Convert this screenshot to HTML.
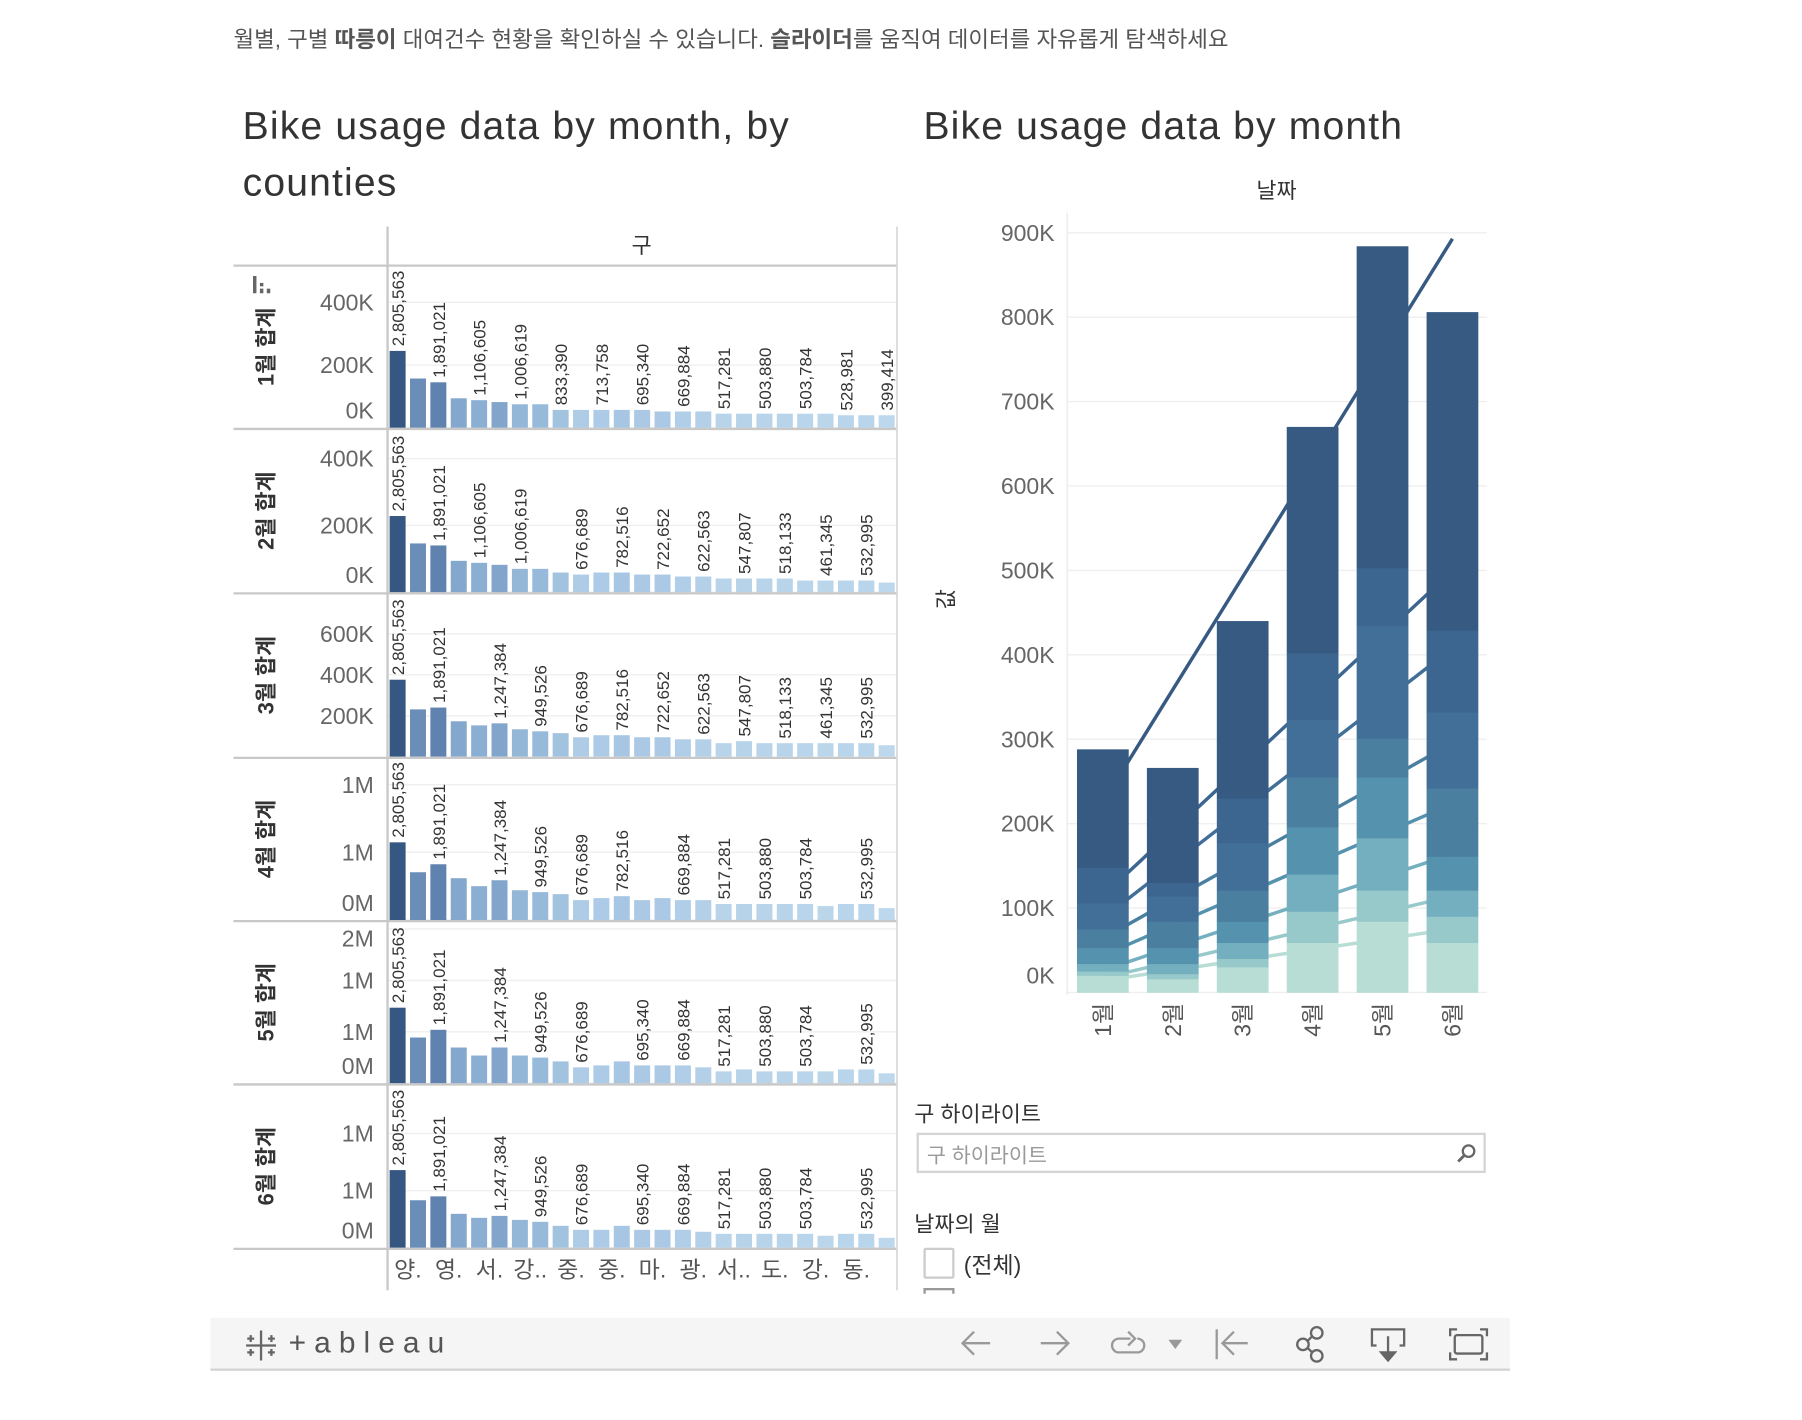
<!DOCTYPE html>
<html><head><meta charset="utf-8">
<style>
html,body{margin:0;padding:0;background:#fff;width:1802px;height:1420px;overflow:hidden;}
#stage{position:absolute;left:0;top:0;width:1567px;height:1235px;transform:scale(1.15);transform-origin:0 0;font-family:"Liberation Sans","Noto Sans CJK KR",sans-serif;}
.abs{position:absolute;white-space:nowrap;}
svg text{font-family:"Liberation Sans","Noto Sans CJK KR",sans-serif;}
</style></head><body>
<div id="stage">
<div class="abs" style="left:203px;top:18px;font-size:19.5px;color:#555;">월별, 구별 <b>따릉이</b> 대여건수 현황을 확인하실 수 있습니다. <b>슬라이더</b>를 움직여 데이터를 자유롭게 탐색하세요</div>
<div class="abs" style="left:211px;top:86px;font-size:34px;line-height:49px;color:#333;white-space:normal;width:520px;letter-spacing:1px;">Bike usage data by month, by counties</div>
<div class="abs" style="left:803px;top:86px;font-size:34px;line-height:49px;color:#333;letter-spacing:1px;">Bike usage data by month</div>

<svg id="charts" width="1567" height="1235" style="position:absolute;left:0;top:0;"></svg>

<div class="abs" style="left:795px;top:954px;font-size:19px;color:#333;">구 하이라이트</div>
<div class="abs" style="left:797px;top:985px;width:491px;height:31px;border:2px solid #d4d4d4;box-sizing:content-box;background:#fff;">
  <span style="position:absolute;left:7px;top:4px;font-size:18px;color:#999;">구 하이라이트</span>
  <svg style="position:absolute;right:6px;top:7px;" width="18" height="18"><circle cx="11" cy="7" r="5" fill="none" stroke="#666" stroke-width="2"/><line x1="7" y1="11" x2="2" y2="16" stroke="#666" stroke-width="2.5"/></svg>
</div>
<div class="abs" style="left:795px;top:1050px;font-size:19px;color:#333;">날짜의 월</div>
<div class="abs" style="left:803px;top:1085px;width:23px;height:23px;border:2px solid #ccc;border-radius:2px;"></div>
<div class="abs" style="left:838px;top:1084px;font-size:20px;color:#333;">(전체)</div>
<div class="abs" style="left:803px;top:1120px;width:23px;height:3px;border:2px solid #999;border-bottom:none;"></div>

<div class="abs" style="left:183px;top:1146px;width:1130px;height:44px;background:#f5f5f5;border-bottom:2px solid #d4d4d4;">
  <svg style="position:absolute;left:28px;top:8px;" width="32" height="32">
    <g stroke="#666" stroke-width="2"><line x1="16" y1="3" x2="16" y2="29"/><line x1="3" y1="16" x2="29" y2="16"/><line x1="7" y1="7" x2="7" y2="13"/><line x1="4" y1="10" x2="10" y2="10"/><line x1="25" y1="7" x2="25" y2="13"/><line x1="22" y1="10" x2="28" y2="10"/><line x1="7" y1="19" x2="7" y2="25"/><line x1="4" y1="22" x2="10" y2="22"/><line x1="25" y1="19" x2="25" y2="25"/><line x1="22" y1="22" x2="28" y2="22"/></g>
  </svg>
  <span style="position:absolute;left:68px;top:6px;font-size:26px;color:#555;letter-spacing:7px;">+ableau</span>
  <svg style="position:absolute;left:640px;top:6px;" width="480" height="34">
    <g stroke="#999" stroke-width="2" fill="none">
      <g><line x1="14" y1="16" x2="38" y2="16"/><polyline points="24,6 14,16 24,26"/></g>
      <g><line x1="82" y1="16" x2="106" y2="16"/><polyline points="96,6 106,16 96,26"/></g>
      <g><path d="M160 12 H150 a6 6 0 0 0 0 12 H166 a6 6 0 0 0 0 -12"/><polyline points="158,6 164,12 158,18"/></g>
      <polygon points="193,13 205,13 199,21" fill="#999" stroke="none"/>
      <g><line x1="235" y1="4" x2="235" y2="30"/><line x1="240" y1="16" x2="262" y2="16"/><polyline points="250,6 240,16 250,26"/></g>
    </g>
    <g stroke="#666" stroke-width="2" fill="none">
      <g><circle cx="310" cy="17" r="5"/><circle cx="322" cy="7" r="5"/><circle cx="322" cy="27" r="5"/><line x1="314" y1="14" x2="318" y2="10"/><line x1="314" y1="20" x2="318" y2="24"/></g>
      <g><polyline points="374,18 370,18 370,4 398,4 398,18 394,18"/><line x1="384" y1="10" x2="384" y2="28"/><polygon points="378,24 390,24 384,31" fill="#666"/></g>
      <g><rect x="442" y="9" width="24" height="16" rx="2"/><polyline points="438,10 438,4 444,4"/><polyline points="464,4 470,4 470,10"/><polyline points="438,24 438,30 444,30"/><polyline points="464,30 470,30 470,24"/></g>
    </g>
  </svg>
</div>
</div>
<script>
// ---------- Left chart data ----------
const districts = ['양천구','영등포구','서초구','강서구','송파구','강남구','마포구','성동구','광진구','중랑구','중구','구로구','동작구','관악구','종로구','노원구','서대문구','은평구','성북구','도봉구','금천구','강북구','동대문구','용산구','강동구'];
const bottomLabels = ['양.','영.','서.','강..','중.','중.','마.','광.','서..','도.','강.','동.'];
const rowTitles = ['1월 합계','2월 합계','3월 합계','4월 합계','5월 합계','6월 합계'];
const row1Values = [245,157,145,94,88,82,75,75,57,57,57,57,57,52,52,52,45,45,45,45,45,45,40,40,40];
const row2Values = [228,146,140,94,88,82,70,70,59,53,59,59,53,53,47,47,41,41,41,41,35,35,35,35,29];
const row3Values = [376,231,240,173,153,163,134,124,115,95,105,105,95,95,85,85,66,76,66,66,66,66,66,66,56];
const row4Values = [574,353,412,309,250,294,220,206,191,147,162,176,147,162,147,147,118,118,118,118,118,103,118,118,88];
const row5Values = [735,445,520,348,270,348,270,250,213,155,174,213,174,174,174,155,116,135,116,116,116,116,135,135,97];
const row6Values = [680,416,450,297,262,279,244,227,192,157,157,192,157,157,157,140,122,122,122,122,122,105,122,122,87];
const rowMax = [513,485,792,1190,1565,1420];
const row1Ticks = [0,200,400], row1TickLabels = ['0K','200K','400K'];
const row2Ticks = [0,200,400], row2TickLabels = ['0K','200K','400K'];
const row3Ticks = [200,400,600], row3TickLabels = ['200K','400K','600K'];
const row4Ticks = [0,500,1000], row4TickLabels = ['0M','1M','1M'];
const row5Ticks = [0,500,1000,1500], row5TickLabels = ['0M','1M','1M','2M'];
const row6Ticks = [0,500,1000], row6TickLabels = ['0M','1M','1M'];
const row1LabelIdx = [0,2,4,6,8,10,12,14,16,18,20,22,24];
const row1LabelText = ['2,805,563','1,891,021','1,106,605','1,006,619','833,390','713,758','695,340','669,884','517,281','503,880','503,784','528,981','399,414'];
const row2LabelIdx = [0,2,4,6,9,11,13,15,17,19,21,23];
const row2LabelText = ['2,805,563','1,891,021','1,106,605','1,006,619','676,689','782,516','722,652','622,563','547,807','518,133','461,345','532,995'];
const row3LabelIdx = [0,2,5,7,9,11,13,15,17,19,21,23];
const row3LabelText = ['2,805,563','1,891,021','1,247,384','949,526','676,689','782,516','722,652','622,563','547,807','518,133','461,345','532,995'];
const row4LabelIdx = [0,2,5,7,9,11,14,16,18,20,23];
const row4LabelText = ['2,805,563','1,891,021','1,247,384','949,526','676,689','782,516','669,884','517,281','503,880','503,784','532,995'];
const row5LabelIdx = [0,2,5,7,9,12,14,16,18,20,23];
const row5LabelText = ['2,805,563','1,891,021','1,247,384','949,526','676,689','695,340','669,884','517,281','503,880','503,784','532,995'];
const row6LabelIdx = [0,2,5,7,9,12,14,16,18,20,23];
const row6LabelText = ['2,805,563','1,891,021','1,247,384','949,526','676,689','695,340','669,884','517,281','503,880','503,784','532,995'];

// ---------- Right chart data ----------
const months = ['1월','2월','3월','4월','5월','6월'];
const band1 = [20,16,30,59,84,59];
const band2 = [5,6,10,37,37,31];
const band3 = [9,12,19,44,62,31];
const band4 = [19,19,25,56,72,40];
const band5 = [22,31,37,59,46,81];
const band6 = [31,30,56,68,134,90];
const band7 = [42,16,53,79,68,97];
const band8 = [140,136,210,268,381,377];
const rightTicks = [0,100,200,300,400,500,600,700,800,900];
const rightTickLabels = ['0K','100K','200K','300K','400K','500K','600K','700K','800K','900K'];

const NS='http://www.w3.org/2000/svg';
const svg=document.getElementById('charts');
function mk(tag,attrs,parent){const e=document.createElementNS(NS,tag);for(const k in attrs)e.setAttribute(k,attrs[k]);(parent||svg).appendChild(e);return e;}

const barColors=['#365781','#6a8eb7','#5f83ae','#84a8cd','#8bafd3','#82a6cb','#94b7d8','#97badb','#a1c3e0','#aecce6','#adcbe6','#a6c6e3','#abc9e5','#abc9e5','#b0cee7','#b3d0e8','#b8d4ea','#b6d3ea','#b8d4ea','#b8d4ea','#b9d5eb','#bbd6eb','#b9d5eb','#b9d5eb','#bdd8ec'];

const paneL=337,paneR=780,bandW=(paneR-paneL)/25;
const rowTops=[231,373,516,659,801,943],rowBots=[373,516,659,801,943,1086];
const xL=i=>paneL+i*bandW+1.8;
const allValues=[row1Values,row2Values,row3Values,row4Values,row5Values,row6Values];
const allTicks=[row1Ticks,row2Ticks,row3Ticks,row4Ticks,row5Ticks,row6Ticks];
const allTickLabels=[row1TickLabels,row2TickLabels,row3TickLabels,row4TickLabels,row5TickLabels,row6TickLabels];
const allLabelIdx=[row1LabelIdx,row2LabelIdx,row3LabelIdx,row4LabelIdx,row5LabelIdx,row6LabelIdx];
const allLabelText=[row1LabelText,row2LabelText,row3LabelText,row4LabelText,row5LabelText,row6LabelText];

const left=mk('g',{});


const hdr=mk('text',{x:558,y:220,'font-size':19,fill:'#333','text-anchor':'middle'},left);hdr.textContent='구';



for(let r=0;r<6;r++){
  const top=rowTops[r],base=rowBots[r]-1,h=base-top-1;
  const y=v=>base-v/rowMax[r]*h;
  const g=mk('g',{},left);
  
  
  allTicks[r].forEach((t,k)=>{
    const ty=y(t);
    const gl=mk('line',{x1:paneL,x2:paneR,y1:ty,y2:ty,stroke:'#efefef','stroke-width':1.2},g);
    
    
    const lab=mk('text',{x:325,y:Math.max(Math.min(ty+7,base-8),top+22),'font-size':20,fill:'#666','text-anchor':'end'},g);
    lab.textContent=allTickLabels[r][k];
    
    
  });
  allValues[r].forEach((v,i)=>{
    const b=mk('rect',{x:xL(i),y:y(v),width:13.9,height:base-y(v),fill:barColors[i]},g);
    
    
  });
  allLabelIdx[r].forEach((i,k)=>{
    const cx=xL(i)+7,ty=y(allValues[r][i])-4;
    const t=mk('text',{x:0,y:0,'font-size':14.8,fill:'#333',transform:`translate(${cx+5.5},${ty}) rotate(-90)`},g);
    t.textContent=allLabelText[r][k];
    
    
  });
  const rt=mk('text',{x:0,y:0,'font-size':19,'font-weight':'bold',fill:'#333','text-anchor':'middle',transform:`translate(238,${(top+base)/2}) rotate(-90)`},g);
  rt.textContent=rowTitles[r];
  
  
  const rl=mk('line',{x1:203,x2:paneR,y1:rowBots[r],y2:rowBots[r],stroke:'#c8c8c8','stroke-width':2},left);
  
  
}
const hl=mk('line',{x1:203,x2:paneR,y1:231,y2:231,stroke:'#c8c8c8','stroke-width':2},left);


const vl=mk('line',{x1:paneL,x2:paneL,y1:197,y2:1122,stroke:'#c8c8c8','stroke-width':2},left);


const vr=mk('line',{x1:paneR,x2:paneR,y1:197,y2:1122,stroke:'#d8d8d8','stroke-width':1.5},left);


const si=mk('g',{fill:'#666'},left);


mk('rect',{x:220,y:240,width:3,height:15},si);mk('rect',{x:226,y:246,width:3,height:3},si);mk('rect',{x:226,y:251,width:3,height:4},si);mk('rect',{x:232,y:251,width:3,height:4},si);
bottomLabels.forEach((s,k)=>{
  const t=mk('text',{x:paneL+(2*k+1)*bandW,y:1111,'font-size':20,fill:'#555','text-anchor':'middle'},left);
  t.textContent=s;
  
  
});

// ---------- right chart ----------
const right=mk('g',{});


const rBase=863,rPer=73.4/100,plotL=928,plotR=1293;
const ry=v=>rBase-v*rPer;
const rx=m=>959+m*60.8;
const t1=mk('text',{x:1110,y:172,'font-size':19,fill:'#333','text-anchor':'middle'},right);t1.textContent='날짜';


const t2=mk('text',{x:0,y:0,'font-size':19,fill:'#333','text-anchor':'middle',transform:'translate(829,521) rotate(-90)'},right);t2.textContent='값';


rightTicks.forEach((t,k)=>{
  const gl=mk('line',{x1:plotL,x2:plotR,y1:ry(t),y2:ry(t),stroke:'#efefef','stroke-width':1.2},right);
  
  
  const lab=mk('text',{x:917,y:Math.min(ry(t)+7,rBase-8),'font-size':20,fill:'#666','text-anchor':'end'},right);
  lab.textContent=rightTickLabels[k];
  
  
});
const ax=mk('line',{x1:plotL,x2:plotL,y1:185,y2:865,stroke:'#eee','stroke-width':1.5},right);


const bands=[band1,band2,band3,band4,band5,band6,band7,band8];
const bandColors=['#b8ddd5','#98c9ca','#74afbf','#5592ad','#4a7fa0','#426f97','#3c6590','#375a83'];
const cum=bands.map((_,b)=>months.map((_,m)=>{let s=0;for(let k=0;k<=b;k++)s+=bands[k][m];return s;}));
cum.forEach((arr,b)=>{
  const n=arr.length,mx=(n-1)/2,my=arr.reduce((a,c)=>a+c,0)/n;
  let num=0,den=0;arr.forEach((v,i)=>{num+=(i-mx)*(v-my);den+=(i-mx)*(i-mx);});
  const sl=num/den,a0=my-sl*mx;
  const ln=mk('line',{x1:rx(0),y1:ry(a0),x2:rx(n-1),y2:ry(a0+sl*(n-1)),stroke:bandColors[b],'stroke-width':3},right);
  
  
});
months.forEach((mo,m)=>{
  let acc=0;
  bands.forEach((arr,b)=>{
    const v=arr[m];
    const r=mk('rect',{x:rx(m)-22.5,y:ry(acc+v),width:45,height:v*rPer+0.3,fill:bandColors[b]},right);
    
    
    acc+=v;
  });
  const lab=mk('text',{x:0,y:0,'font-size':20,fill:'#555','text-anchor':'end',transform:`translate(${rx(m)+7},${872}) rotate(-90)`},right);
  lab.textContent=mo;
  
  
});
</script>
</body></html>
